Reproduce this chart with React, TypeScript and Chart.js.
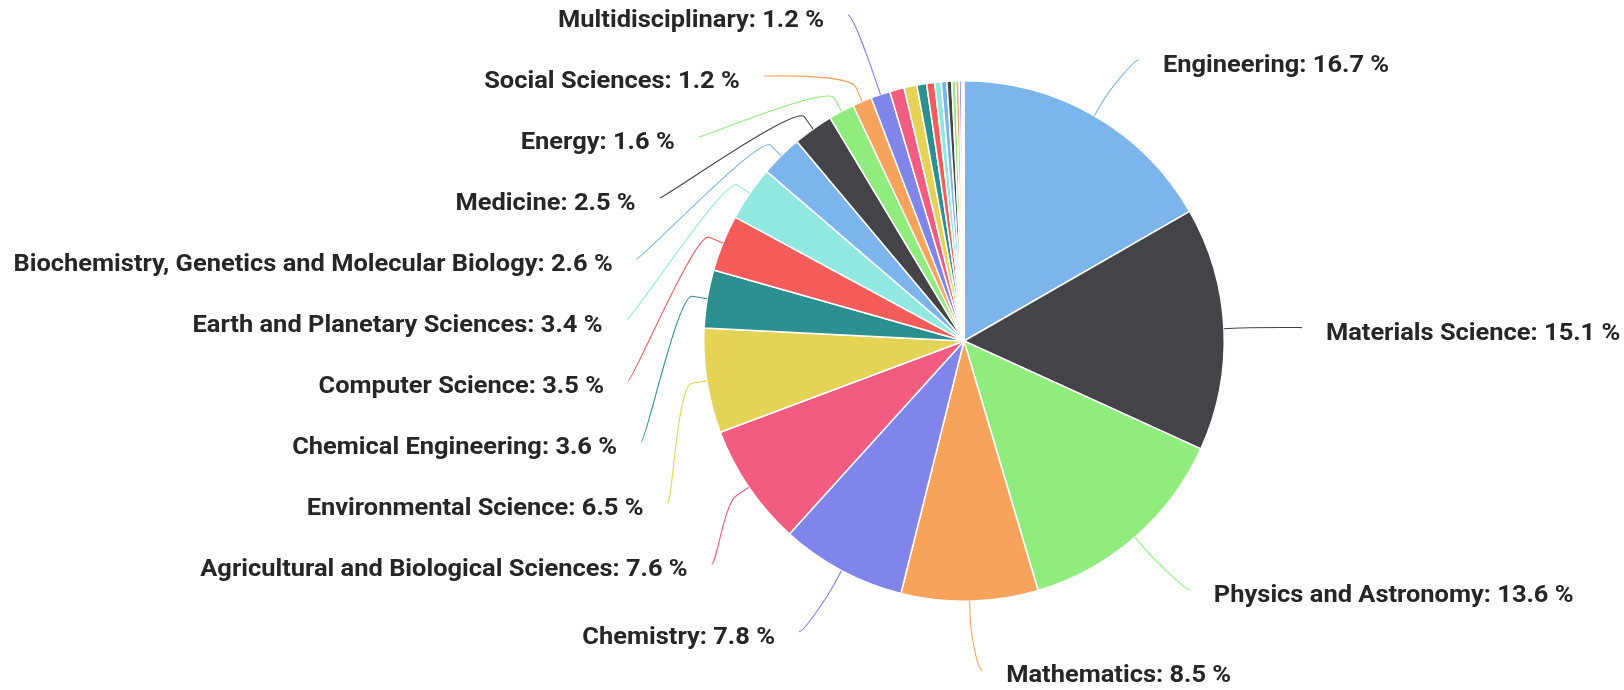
import React, { useEffect, useRef } from "react";
import { Chart, registerables } from "chart.js";

Chart.register(...registerables);

const categories: string[] = [
  "Engineering",
  "Materials Science",
  "Physics and Astronomy",
  "Mathematics",
  "Chemistry",
  "Agricultural and Biological Sciences",
  "Environmental Science",
  "Chemical Engineering",
  "Computer Science",
  "Earth and Planetary Sciences",
  "Biochemistry, Genetics and Molecular Biology",
  "Medicine",
  "Energy",
  "Social Sciences",
  "Multidisciplinary",
  "Pharmacology, Toxicology and Pharmaceutics",
  "Business, Management and Accounting",
  "Economics, Econometrics and Finance",
  "Decision Sciences",
  "Arts and Humanities",
  "Immunology and Microbiology",
  "Neuroscience",
  "Psychology",
  "Health Professions",
  "Veterinary",
  "Nursing",
  "Dentistry",
];

const shares: number[] = [
  16.7, 15.1, 13.6, 8.5, 7.8, 7.6, 6.5, 3.6, 3.5, 3.4, 2.6, 2.5, 1.6, 1.2, 1.2,
  0.9, 0.8, 0.6, 0.5, 0.4, 0.35, 0.3, 0.25, 0.2, 0.15, 0.1, 0.05,
];

const palette: string[] = [
  "#7cb5ec",
  "#434348",
  "#90ed7d",
  "#f7a35c",
  "#8085e9",
  "#f15c80",
  "#e4d354",
  "#2b908f",
  "#f45b5b",
  "#91e8e1",
];

const LABEL_MIN = 1.0;
const FONT = "bold 24px Roboto";
const TEXT_STRETCH = 1.06;
const TEXT_COLOR = "#262626";

type Item = {
  i: number;
  mid: number;
  natY: number;
  y: number;
  atEdge: boolean;
};

function distribute(items: Item[], size: number, minY: number, maxY: number) {
  type G = { members: Item[]; start: number };
  let groups: G[] = items.map((it) => ({ members: [it], start: it.natY }));
  const place = (g: G) => {
    const n = g.members.length;
    const mean = g.members.reduce((s, m) => s + m.natY, 0) / n;
    const span = (n - 1) * size;
    let start = mean - span / 2;
    if (start < minY) start = minY;
    if (start + span > maxY) start = maxY - span;
    g.start = start;
  };
  groups.forEach(place);
  let merged = true;
  while (merged) {
    merged = false;
    for (let k = 0; k < groups.length - 1; k++) {
      const a = groups[k];
      const b = groups[k + 1];
      const aEnd = a.start + (a.members.length - 1) * size;
      if (b.start - aEnd < size) {
        const g: G = { members: a.members.concat(b.members), start: 0 };
        place(g);
        groups.splice(k, 2, g);
        merged = true;
        break;
      }
    }
  }
  groups.forEach((g) => {
    g.members.forEach((m, j) => {
      m.y = g.start + j * size;
      m.atEdge =
        (j === 0 && Math.abs(g.start - minY) < 0.5) ||
        (j === g.members.length - 1 &&
          Math.abs(g.start + (g.members.length - 1) * size - maxY) < 0.5);
    });
  });
}

const pieLabels = {
  id: "pieLabels",
  afterDatasetsDraw(chart: any) {
    const meta = chart.getDatasetMeta(0);
    const arcs = meta.data as any[];
    if (!arcs || !arcs.length) return;
    const ctx: CanvasRenderingContext2D = chart.ctx;
    const cx = arcs[0].x;
    const cy = arcs[0].y;
    const r = arcs[0].outerRadius;
    const distance = 67;
    const R = r + distance;
    const labelCy = cy + 2;
    const breakOffset = 15;
    const connectorGap = 11;
    const textGap = 35;
    const spacing = 61;
    const minY = 15;
    const maxY = chart.height - 15;

    const left: Item[] = [];
    const right: Item[] = [];
    arcs.forEach((arc: any, i: number) => {
      if (shares[i] < LABEL_MIN) return;
      const mid = (arc.startAngle + arc.endAngle) / 2;
      const it: Item = { i, mid, natY: labelCy + Math.sin(mid) * R, y: 0, atEdge: false };
      if (Math.cos(mid) < 0) left.push(it);
      else right.push(it);
    });

    const drawSide = (items: Item[], sign: number) => {
      items.sort((a, b) => a.natY - b.natY);
      distribute(items, spacing, minY, maxY);
      items.forEach((it) => {
        const color = palette[it.i % palette.length];
        const yForX = it.atEdge ? it.natY : it.y;
        const dy = Math.max(-R, Math.min(R, yForX - labelCy));
        const circleX = cx + sign * Math.sqrt(R * R - dy * dy);
        const endX = circleX + sign * connectorGap;
        const endY = it.y;
        const tx = cx + Math.cos(it.mid) * r;
        const ty = cy + Math.sin(it.mid) * r;
        const bx = cx + Math.cos(it.mid) * (r + breakOffset);
        const by = cy + Math.sin(it.mid) * (r + breakOffset);
        ctx.save();
        ctx.strokeStyle = color;
        ctx.lineWidth = 1.1;
        ctx.beginPath();
        ctx.moveTo(endX, endY);
        ctx.bezierCurveTo(endX - sign * 5, endY, 2 * bx - tx, 2 * by - ty, bx, by);
        ctx.lineTo(tx, ty);
        ctx.stroke();
        ctx.font = FONT;
        ctx.fillStyle = TEXT_COLOR;
        ctx.textBaseline = "middle";
        ctx.textAlign = sign > 0 ? "left" : "right";
        const text = categories[it.i] + ": " + shares[it.i].toFixed(1) + " %";
        ctx.translate(circleX + sign * textGap, it.y + 6);
        ctx.scale(TEXT_STRETCH, 1);
        ctx.fillText(text, 0, 0);
        ctx.restore();
      });
    };
    drawSide(left, -1);
    drawSide(right, 1);
  },
};

export default function App() {
  const canvasRef = useRef<HTMLCanvasElement | null>(null);
  useEffect(() => {
    document.body.style.margin = "0";
    const canvas = canvasRef.current;
    if (!canvas) return;
    const chart = new Chart(canvas, {
      type: "pie",
      data: {
        labels: categories,
        datasets: [
          {
            data: shares,
            backgroundColor: categories.map((_, i) => palette[i % palette.length]),
            borderColor: "#ffffff",
            borderWidth: 1.5,
          },
        ],
      },
      options: {
        animation: false,
        responsive: true,
        maintainAspectRatio: false,
        layout: { padding: { left: 703, right: 399, top: 80, bottom: 88 } },
        plugins: {
          legend: { display: false },
          tooltip: { enabled: false },
        },
      },
      plugins: [pieLabels],
    });
    return () => chart.destroy();
  }, []);
  return (
    <div style={{ width: 1624, height: 690, position: "relative", background: "#ffffff" }}>
      <canvas ref={canvasRef} />
    </div>
  );
}
